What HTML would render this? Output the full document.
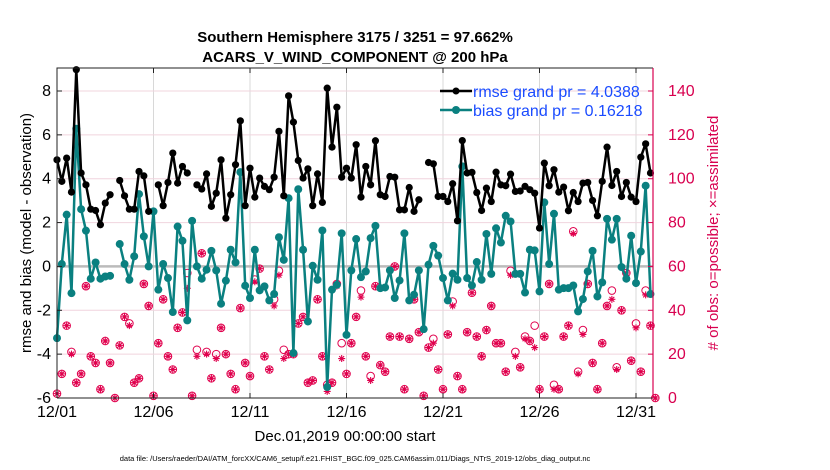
<!DOCTYPE html>
<html><head><meta charset="utf-8"><style>
body{margin:0;background:#fff;width:830px;height:470px;overflow:hidden;font-family:"Liberation Sans",sans-serif}
svg{display:block}
</style></head><body>
<svg id="chart" width="830" height="470" xmlns="http://www.w3.org/2000/svg" font-family="Liberation Sans, sans-serif">
<text x="355" y="42" text-anchor="middle" font-size="15" font-weight="bold">Southern Hemisphere 3175 / 3251 = 97.662%</text>
<text x="355" y="62" text-anchor="middle" font-size="15" font-weight="bold">ACARS_V_WIND_COMPONENT @ 200 hPa</text>
<g id="grid"></g><g id="obs"></g><g id="series"></g><g id="axes"></g>
<text transform="translate(31,233) rotate(-90)" text-anchor="middle" font-size="15">rmse and bias (model - observation)</text>
<text transform="translate(718,233) rotate(-90)" text-anchor="middle" font-size="15" fill="#d8004f"># of obs: o=possible; ×=assimilated</text>
<text x="345" y="441" text-anchor="middle" font-size="15">Dec.01,2019 00:00:00 start</text>
<text x="355" y="461" text-anchor="middle" font-size="7.5">data file: /Users/raeder/DAI/ATM_forcXX/CAM6_setup/f.e21.FHIST_BGC.f09_025.CAM6assim.011/Diags_NTrS_2019-12/obs_diag_output.nc</text>
<g>
<line x1="440" y1="91" x2="472" y2="91" stroke="#000" stroke-width="2.5"/><circle cx="456" cy="91" r="3.5" fill="#000"/>
<text x="473" y="97" font-size="16" fill="#1a4bff">rmse grand pr = 4.0388</text>
<line x1="440" y1="110" x2="472" y2="110" stroke="#0a8080" stroke-width="2.5"/><circle cx="456" cy="110" r="4" fill="#0a8080"/>
<text x="473" y="116" font-size="16" fill="#1a4bff">bias grand pr = 0.16218</text>
</g>
</svg>
<script>
const rmse=[4.86,3.88,4.94,3.39,8.97,4.26,3.72,2.61,2.55,1.90,2.89,3.27,null,3.92,3.22,2.61,2.61,4.33,4.13,2.51,null,3.72,2.77,3.83,5.17,3.80,4.56,4.26,null,3.72,3.53,4.22,2.74,3.34,4.86,2.20,3.27,4.64,6.64,2.77,4.48,3.16,4.03,3.65,3.50,4.07,6.16,3.22,7.78,6.58,4.83,4.03,4.45,2.77,4.22,2.92,8.13,5.44,7.26,4.07,4.48,4.03,5.55,3.16,4.56,3.72,5.73,3.27,3.19,4.10,4.07,2.58,2.58,3.60,2.51,3.04,null,4.74,4.68,3.19,3.19,2.96,3.77,2.08,5.74,4.26,4.29,3.37,2.55,3.57,2.96,4.30,3.72,3.68,4.21,3.42,3.44,3.65,3.50,3.34,1.75,4.71,3.68,4.41,3.39,3.62,2.54,3.37,2.96,3.80,3.83,3.01,2.31,3.88,5.44,3.69,4.33,3.19,3.83,3.16,2.96,4.98,5.59,4.26,null];
const bias=[-3.27,0.11,2.36,-1.22,6.28,2.61,1.63,-0.56,0.18,-0.56,-0.46,-0.43,null,1.02,0.11,-0.61,0.46,3.30,1.37,0,2.51,-1.06,0.11,-0.53,-2.08,1.82,1.17,-2.46,2.08,0,-0.56,-0.15,0.71,-0.18,-1.70,-0.65,0.76,0.18,4.30,-0.88,-1.44,0.76,-1.09,-0.91,-1.55,-1.26,1.33,0.30,3.11,-3.95,3.52,0.76,-2.51,0.03,-0.61,1.64,-5.50,-1.06,-0.84,1.51,-3.12,-0.18,1.25,-0.49,-0.23,1.29,1.85,-0.99,-0.96,-0.18,-1.44,-0.64,1.51,-1.55,-1.29,-0.18,-2.86,0.08,0.94,0.49,-0.53,-1.55,-0.33,-0.61,4.56,-0.53,-0.87,0.20,-0.61,1.48,-0.34,1.74,1.09,2.31,2.05,-0.34,-0.34,-1.19,0.76,0.73,-1.14,2.92,0.11,2.40,-1.06,-0.99,-0.99,-0.87,-2.05,-1.49,-0.23,0.71,-1.37,-0.73,2.17,1.22,2.17,-0.03,-0.56,1.40,-0.76,0.68,3.68,-1.26,null];
const possible=[2,11,33,21,7,11,51,19,16,4,26,16,0,24,37,34,7,9,52,42,1,25,45,19,13,32,39,57,1,22,66,21,9,20,32,20,11,4,41,16,10,54,59,19,13,45,58,22,20,20,34,37,7,8,45,19,6,7,52,25,11,25,37,49,19,10,51,15,12,28,60,28,4,27,45,30,1,23,27,13,4,29,44,10,4,30,48,28,19,31,42,25,25,12,58,21,14,28,26,33,4,28,52,6,4,28,33,76,12,31,52,16,4,25,42,49,14,40,57,17,34,12,49,33,0];
const assimilated=[2,11,33,20,7,11,51,19,16,4,26,16,0,24,37,33,7,9,52,42,1,25,45,19,13,32,39,50,1,19,66,20,9,18,32,20,11,4,41,16,10,53,59,19,13,42,56,18,20,20,34,37,7,8,45,19,3,7,51,18,11,25,37,46,19,8,51,15,12,28,60,28,4,27,45,30,1,23,25,13,4,29,42,10,4,30,48,28,19,31,42,25,25,12,56,19,14,27,26,23,4,28,52,4,4,28,33,75,11,29,52,16,4,25,42,45,13,40,57,17,32,12,47,33,0];
const xTickLabels=["12/01","12/06","12/11","12/16","12/21","12/26","12/31"];
const xTickDays=[0,5,10,15,20,25,30];
const yLeftTicks=[-6,-4,-2,0,2,4,6,8];
const yRightTicks=[0,20,40,60,80,100,120,140];

const L=57,R=653,T=68,B=398;
const X=d=>L+d*19.3;
const XI=i=>X(i/4);
const Y=v=>B-(v+6)*(B-91)/14;
const YR=c=>B-c*(B-91)/140;
const NS="http://www.w3.org/2000/svg";
function mk(tag,parent,attrs){const e=document.createElementNS(NS,tag);for(const k in attrs)e.setAttribute(k,attrs[k]);parent.appendChild(e);return e;}
const grid=document.getElementById('grid'),axes=document.getElementById('axes'),obs=document.getElementById('obs'),ser=document.getElementById('series');

xTickDays.forEach((d,i)=>{
  const g=mk('line',grid,{x1:X(d),x2:X(d),y1:T,y2:B,stroke:'#d8d8d8','stroke-width':1});
  
  
  mk('line',axes,{x1:X(d),x2:X(d),y1:B,y2:B-5,stroke:'#222'});
  mk('line',axes,{x1:X(d),x2:X(d),y1:T,y2:T+5,stroke:'#222'});
  const t=mk('text',axes,{x:X(d),y:B+19,'text-anchor':'middle','font-size':16});
  t.textContent=xTickLabels[i];
  
  
});
yLeftTicks.forEach(v=>{
  if(v!==0&&v!==-6){const g=mk('line',grid,{x1:L,x2:R,y1:Y(v),y2:Y(v),stroke:'#f0d4de','stroke-width':1});
  
  }
  mk('line',axes,{x1:L,x2:L+5,y1:Y(v),y2:Y(v),stroke:'#222'});
  const t=mk('text',axes,{x:L-6,y:Y(v)+5,'text-anchor':'end','font-size':16});
  t.textContent=v;
  
  
});
yRightTicks.forEach(c=>{
  mk('line',axes,{x1:R,x2:R-5,y1:YR(c),y2:YR(c),stroke:'#d8004f'});
  const t=mk('text',axes,{x:R+15,y:YR(c)+5,'font-size':16,fill:'#d8004f'});
  t.textContent=c;
  
  
});
const zl=mk('line',grid,{x1:L,x2:R,y1:Y(0),y2:Y(0),stroke:'#bbbbbb','stroke-width':2.5});


mk('path',axes,{d:`M${L},${B}V${T}H${R}`,fill:'none',stroke:'#222','stroke-width':1});
mk('line',axes,{x1:L,x2:R,y1:B,y2:B,stroke:'#222'});
mk('line',axes,{x1:R,x2:R,y1:T,y2:B,stroke:'#d8004f','stroke-width':1.2});

const pink='#e0004d';
possible.forEach((c,i)=>{
  const o=mk('circle',obs,{cx:XI(i),cy:YR(c),r:3.8,fill:'none',stroke:pink,'stroke-width':1});
  
  
});
assimilated.forEach((c,i)=>{
  const x=XI(i),y=YR(c),s=3.5;
  const a=mk('path',obs,{d:`M${x-s},${y}H${x+s}M${x},${y-s}V${y+s}M${x-s*.7},${y-s*.7}L${x+s*.7},${y+s*.7}M${x-s*.7},${y+s*.7}L${x+s*.7},${y-s*.7}`,stroke:pink,'stroke-width':1.1});
  
  
});

function drawSeries(vals,color,r,name){
  let d='',pen=false;
  vals.forEach((v,i)=>{if(v===null){pen=false;return;}d+=(pen?'L':'M')+XI(i).toFixed(1)+','+Y(v).toFixed(1);pen=true;});
  const p=mk('path',ser,{d:d,fill:'none',stroke:color,'stroke-width':2.5,'stroke-linejoin':'round'});
  
  
  vals.forEach((v,i)=>{if(v===null)return;
    const c=mk('circle',ser,{cx:XI(i),cy:Y(v),r:r,fill:color});
    
    
  });
}
drawSeries(bias,'#0a8080',4,'bias');
drawSeries(rmse,'#000',3.6,'rmse');
</script>
</body></html>
